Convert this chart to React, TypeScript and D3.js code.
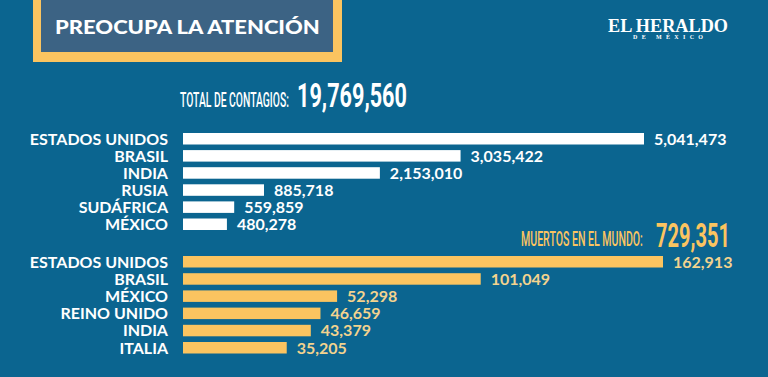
import React, { useLayoutEffect, useRef, useState } from "react";
import * as d3 from "d3";

const casesCountries = ["ESTADOS UNIDOS", "BRASIL", "INDIA", "RUSIA", "SUDÁFRICA", "MÉXICO"];
const casesValues = [5041473, 3035422, 2153010, 885718, 559859, 480278];
const deathsCountries = ["ESTADOS UNIDOS", "BRASIL", "MÉXICO", "REINO UNIDO", "INDIA", "ITALIA"];
const deathsValues = [162913, 101049, 52298, 46659, 43379, 35205];
const totalCases = 19769560;
const totalDeaths = 729351;
const title = "PREOCUPA LA ATENCIÓN";
const casesLabel = "TOTAL DE CONTAGIOS:";
const deathsLabel = "MUERTOS EN EL MUNDO:";

const W = 768;
const H = 377;
const BG = "#0b6590";
const YELLOW = "#fbc460";
const PALE = "#f3d38e";
const SLATE = "#3c6384";
const X0 = 183;
const LABEL_X = 168;
const BAR_H = 11.5;
const fmt = d3.format(",");
const labelFont = "Lato, 'Open Sans', sans-serif";

// Text squeezed horizontally to a target width via a transform (keeps real bbox)
function FitText({ x, y, width, children, ...rest }: any) {
  const ref = useRef<SVGTextElement>(null);
  const [sx, setSx] = useState(1);
  useLayoutEffect(() => {
    if (ref.current) {
      const natural = ref.current.getComputedTextLength();
      if (natural > 0) setSx(width / natural);
    }
  }, [width, children]);
  return (
    <g transform={`translate(${x},${y}) scale(${sx},1)`}>
      <text ref={ref} x={0} y={0} {...rest}>{children}</text>
    </g>
  );
}

function BarGroup({ names, values, top, pitch, maxWidth, color, valueColor }: any) {
  const x = d3.scaleLinear().domain([0, d3.max(values) as number]).range([0, maxWidth]);
  const y = d3.scaleBand().domain(names.map((_: string, i: number) => String(i))).range([top, top + pitch * names.length]).paddingInner(0);
  return (
    <g>
      {names.map((n: string, i: number) => {
        const yy = y(String(i)) as number;
        const w = x(values[i]);
        return (
          <g key={i}>
            <text x={LABEL_X} y={yy + BAR_H} textAnchor="end" fill="#ffffff" fontFamily={labelFont} fontWeight={700} fontSize={16}>{n}</text>
            <rect x={X0} y={yy} width={w} height={BAR_H} fill={color} />
            <text x={X0 + w + 10} y={yy + BAR_H} fill={valueColor} fontFamily={labelFont} fontWeight={700} fontSize={16}>{fmt(values[i])}</text>
          </g>
        );
      })}
    </g>
  );
}

export default function App() {
  return (
    <svg width={W} height={H} style={{ position: "absolute", left: 0, top: 0 }} xmlns="http://www.w3.org/2000/svg">
      <rect x={0} y={0} width={W} height={H} fill={BG} />
      {/* title box */}
      <rect x={33} y={-10} width={309} height={72} fill={YELLOW} />
      <rect x={41} y={-10} width={292} height={62} fill={SLATE} />
      <FitText x={55} y={34} width={265} fill="#ffffff" fontFamily={labelFont} fontWeight={900} fontSize={19.5}>{title}</FitText>
      {/* logo */}
      <FitText x={608} y={31.5} width={120} fill="#ffffff" fontFamily="'Liberation Serif', 'DejaVu Serif', serif" fontWeight={700} fontSize={19}>EL HERALDO</FitText>
      <text x={633} y={39} fill="#ffffff" fontFamily="'Liberation Serif', 'DejaVu Serif', serif" fontWeight={700} fontSize={6} textLength={70} lengthAdjust="spacing">DE MÉXICO</text>
      {/* total cases */}
      <FitText x={180} y={107} width={109} fill="#ffffff" fontFamily="'Roboto', sans-serif" fontWeight={500} fontSize={21}>{casesLabel}</FitText>
      <FitText x={297} y={107} width={110} fill="#ffffff" fontFamily="'Roboto', sans-serif" fontWeight={700} fontSize={33}>{fmt(totalCases)}</FitText>
      <BarGroup names={casesCountries} values={casesValues} top={133} pitch={17.1} maxWidth={461} color="#ffffff" valueColor="#ffffff" />
      {/* deaths */}
      <FitText x={521} y={246} width={122} fill={YELLOW} fontFamily="'Roboto', sans-serif" fontWeight={500} fontSize={21}>{deathsLabel}</FitText>
      <FitText x={656} y={247} width={74} fill={YELLOW} fontFamily="'Roboto', sans-serif" fontWeight={700} fontSize={33}>{fmt(totalDeaths)}</FitText>
      <BarGroup names={deathsCountries} values={deathsValues} top={256} pitch={17.2} maxWidth={480} color={YELLOW} valueColor={PALE} />
    </svg>
  );
}
